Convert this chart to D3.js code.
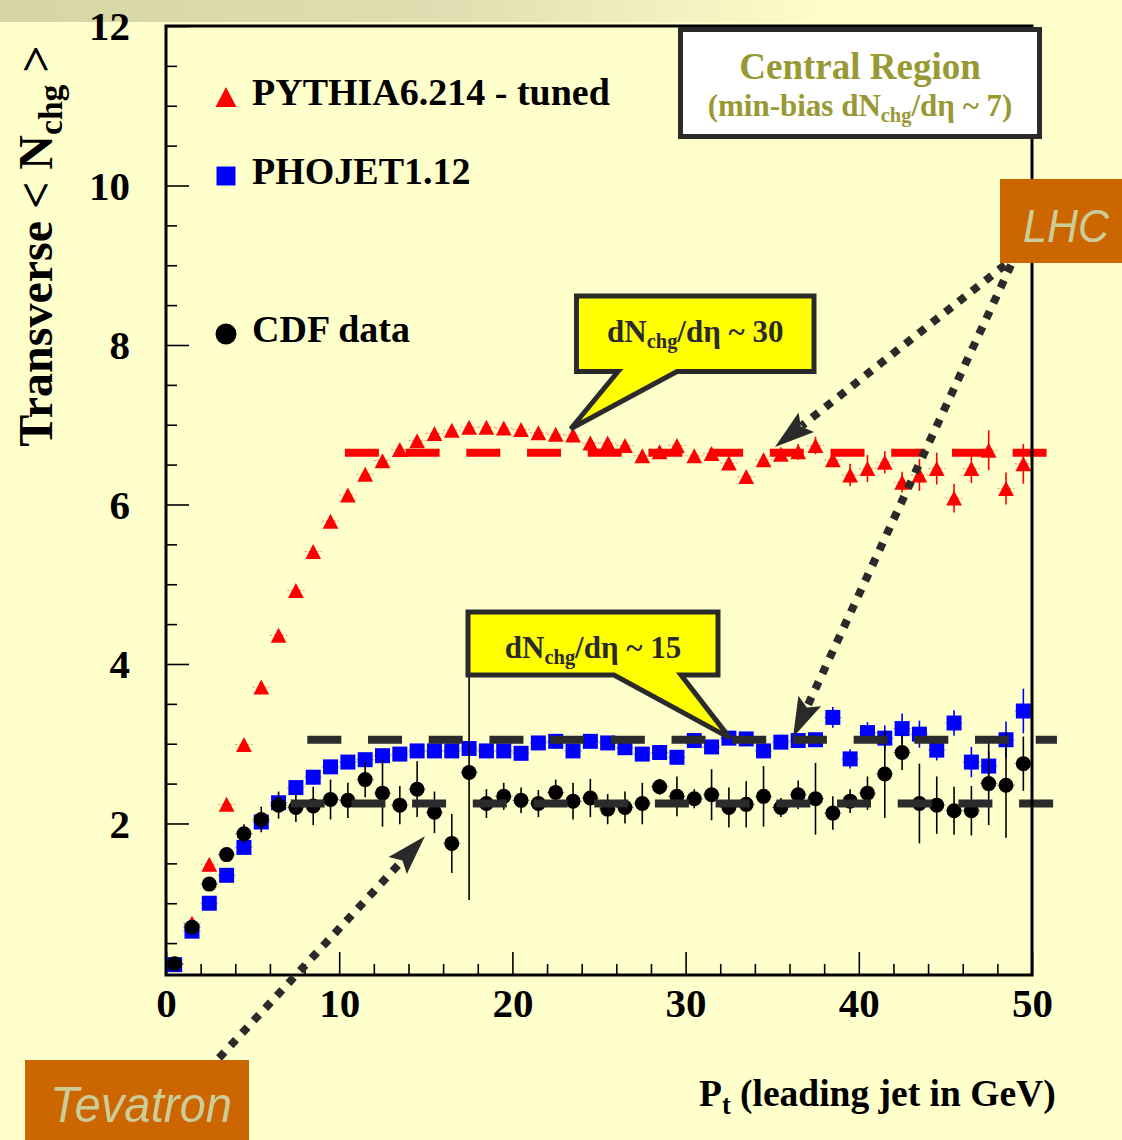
<!DOCTYPE html>
<html>
<head>
<meta charset="utf-8">
<script src="https://cdn.jsdelivr.net/npm/d3@7"></script>
<style>
  html, body { margin: 0; padding: 0; background: #ffffcc; }
  svg { display: block; }
</style>
</head>
<body>
<svg id="chart" width="1122" height="1140"></svg>
<script>
// Leading-jet Pt bins (GeV), 1 GeV wide
const binCenters = [0.5, 1.5, 2.5, 3.5, 4.5, 5.5, 6.5, 7.5, 8.5, 9.5,
  10.5, 11.5, 12.5, 13.5, 14.5, 15.5, 16.5, 17.5, 18.5, 19.5,
  20.5, 21.5, 22.5, 23.5, 24.5, 25.5, 26.5, 27.5, 28.5, 29.5,
  30.5, 31.5, 32.5, 33.5, 34.5, 35.5, 36.5, 37.5, 38.5, 39.5,
  40.5, 41.5, 42.5, 43.5, 44.5, 45.5, 46.5, 47.5, 48.5, 49.5];

// Transverse <Nchg> : PYTHIA 6.214 tuned
const pythiaValues = [0.24, 0.75, 1.49, 2.24, 2.99, 3.71, 4.36, 4.92, 5.41, 5.79,
  6.12, 6.38, 6.55, 6.69, 6.80, 6.89, 6.93, 6.97, 6.97, 6.96,
  6.94, 6.90, 6.88, 6.87, 6.77, 6.77, 6.74, 6.61, 6.66, 6.74,
  6.61, 6.64, 6.52, 6.35, 6.56, 6.63, 6.66, 6.74, 6.56, 6.37,
  6.45, 6.53, 6.28, 6.37, 6.45, 6.08, 6.45, 6.68, 6.20, 6.51];
const pythiaErrors = [0.02, 0.02, 0.02, 0.02, 0.02, 0.02, 0.02, 0.02, 0.02, 0.02,
  0.03, 0.03, 0.03, 0.03, 0.03, 0.03, 0.03, 0.03, 0.03, 0.03,
  0.04, 0.04, 0.04, 0.04, 0.04, 0.04, 0.05, 0.05, 0.05, 0.05,
  0.05, 0.05, 0.06, 0.06, 0.07, 0.08, 0.10, 0.11, 0.08, 0.14,
  0.17, 0.14, 0.13, 0.20, 0.20, 0.18, 0.18, 0.25, 0.20, 0.25];

// Transverse <Nchg> : PHOJET 1.12
const phojetValues = [0.23, 0.65, 1.00, 1.35, 1.70, 2.02, 2.26, 2.45, 2.58, 2.71,
  2.77, 2.80, 2.85, 2.87, 2.91, 2.91, 2.91, 2.94, 2.91, 2.91,
  2.88, 3.01, 3.03, 2.91, 3.03, 3.01, 2.95, 2.87, 2.89, 2.83,
  3.04, 2.96, 3.07, 3.06, 2.91, 3.02, 3.04, 3.05, 3.33, 2.81,
  3.14, 3.07, 3.19, 3.12, 2.92, 3.26, 2.77, 2.72, 3.05, 3.41];
const phojetErrors = [0.02, 0.02, 0.02, 0.02, 0.02, 0.02, 0.02, 0.02, 0.02, 0.02,
  0.03, 0.03, 0.03, 0.03, 0.03, 0.03, 0.03, 0.03, 0.03, 0.03,
  0.04, 0.04, 0.04, 0.04, 0.04, 0.04, 0.04, 0.05, 0.05, 0.05,
  0.05, 0.05, 0.06, 0.07, 0.06, 0.07, 0.08, 0.09, 0.13, 0.12,
  0.13, 0.16, 0.19, 0.17, 0.13, 0.16, 0.19, 0.19, 0.23, 0.28];

// Transverse <Nchg> : CDF data
const cdfValues = [0.24, 0.70, 1.24, 1.61, 1.87, 2.05, 2.23, 2.20, 2.22, 2.30,
  2.29, 2.55, 2.38, 2.23, 2.43, 2.14, 1.75, 2.64, 2.25, 2.34,
  2.29, 2.25, 2.39, 2.28, 2.32, 2.18, 2.20, 2.25, 2.46, 2.34,
  2.31, 2.36, 2.20, 2.24, 2.34, 2.20, 2.36, 2.31, 2.13, 2.28,
  2.38, 2.62, 2.89, 2.25, 2.23, 2.16, 2.16, 2.50, 2.48, 2.75];
const cdfErrors = [0.02, 0.04, 0.05, 0.06, 0.12, 0.16, 0.17, 0.18, 0.24, 0.25,
  0.22, 0.22, 0.42, 0.24, 0.35, 0.26, 0.37, 1.60, 0.18, 0.17,
  0.16, 0.17, 0.16, 0.23, 0.24, 0.19, 0.20, 0.26, 0.10, 0.25,
  0.12, 0.32, 0.25, 0.29, 0.38, 0.12, 0.18, 0.45, 0.21, 0.15,
  0.21, 0.55, 0.22, 0.50, 0.36, 0.30, 0.31, 0.52, 0.66, 0.34];

// Axis ticks
const yTickLabels = [2, 4, 6, 8, 10, 12];
const yMinorTicks = [0.5, 1, 1.5, 2.5, 3, 3.5, 4.5, 5, 5.5, 6.5, 7, 7.5, 8.5, 9, 9.5, 10.5, 11, 11.5];
const xTickLabels = [0, 10, 20, 30, 40, 50];
const xMinorTicks = [2, 4, 6, 8, 12, 14, 16, 18, 22, 24, 26, 28, 32, 34, 36, 38, 42, 44, 46, 48];

// Plateau levels (dashed guides): value and Pt span
const plateauNames = ["lhc", "tevModel", "tevData"];
const plateauLevels = [6.65, 3.05, 2.25];
const plateauFrom = [10.33, 8.16, 7.2];
const plateauTo = [50.85, 51.44, 51.25];

const legendLabels = ["PYTHIA6.214 - tuned", "PHOJET1.12", "CDF data"];

// ---------------------------------------------------------------
const svg = d3.select("#chart");
const W = 1122, H = 1140;
const plot = { left: 166, right: 1032, top: 26, bottom: 975 };

const x = d3.scaleLinear().domain([0, 50]).range([plot.left, plot.right]);
const y = d3.scaleLinear().domain([0.1, 12]).range([plot.bottom, plot.top]);

const serif = "'Liberation Serif', 'Times New Roman', serif";
const sans = "'Liberation Sans', Arial, sans-serif";
const ink = "#2a2a2a";

// page background and top band
const defs = svg.append("defs");
const band = defs.append("linearGradient").attr("id", "band").attr("x1", 0).attr("x2", 1).attr("y1", 0).attr("y2", 0);
band.append("stop").attr("offset", "0%").attr("stop-color", "#d5d5a5");
band.append("stop").attr("offset", "40%").attr("stop-color", "#dedeb2");
band.append("stop").attr("offset", "75%").attr("stop-color", "#ffffcc");
svg.append("rect").attr("width", W).attr("height", H).attr("fill", "#ffffcc");
svg.append("rect").attr("width", W).attr("height", 22).attr("fill", "url(#band)");

// axes
const yMajor = svg.append("g").attr("transform", `translate(${plot.left},0)`)
  .call(d3.axisLeft(y).tickValues(yTickLabels).tickSize(-23).tickPadding(36).tickFormat(d3.format("d")));
const yMinor = svg.append("g").attr("transform", `translate(${plot.left},0)`)
  .call(d3.axisLeft(y).tickValues(yMinorTicks).tickSize(-11).tickFormat(""));
const xMajor = svg.append("g").attr("transform", `translate(0,${plot.bottom})`)
  .call(d3.axisBottom(x).tickValues(xTickLabels).tickSize(-23).tickPadding(13).tickFormat(d3.format("d")));
const xMinor = svg.append("g").attr("transform", `translate(0,${plot.bottom})`)
  .call(d3.axisBottom(x).tickValues(xMinorTicks).tickSize(-11).tickFormat(""));

[yMajor, yMinor, xMajor, xMinor].forEach(g => {
  g.select(".domain").remove();
  g.selectAll(".tick line").attr("stroke", "#000").attr("stroke-width", 1.6);
  g.selectAll(".tick text")
    .attr("font-family", serif).attr("font-weight", "bold")
    .attr("font-size", 41).attr("fill", "#000");
});
yMajor.selectAll(".tick text").attr("dy", "0.34em");

// data series
const series = [
  { key: legendLabels[0], values: pythiaValues, errors: pythiaErrors, color: "#ff0000", shape: "triangle" },
  { key: legendLabels[1], values: phojetValues, errors: phojetErrors, color: "#0000ff", shape: "square" },
  { key: legendLabels[2], values: cdfValues, errors: cdfErrors, color: "#000000", shape: "circle" }
];

function markerPath(shape, cx, cy, s) {
  if (shape === "triangle") {
    const w = s * 1.05, h = s;
    return `M${cx},${cy - h / 2}L${cx + w / 2},${cy + h / 2}L${cx - w / 2},${cy + h / 2}Z`;
  }
  if (shape === "square") {
    return `M${cx - s / 2},${cy - s / 2}h${s}v${s}h${-s}Z`;
  }
  const r = s / 2;
  return `M${cx - r},${cy}a${r},${r} 0 1,0 ${2 * r},0a${r},${r} 0 1,0 ${-2 * r},0Z`;
}

const seriesG = svg.append("g").attr("class", "series");
series.forEach(sr => {
  const pts = binCenters.map((c, i) => ({ c, v: sr.values[i], e: sr.errors[i] }));
  const g = seriesG.append("g");
  // bin-width bars
  g.selectAll("line.xerr").data(pts).join("line").attr("class", "xerr")
    .attr("x1", d => x(d.c - 0.5)).attr("x2", d => x(d.c + 0.5))
    .attr("y1", d => y(d.v)).attr("y2", d => y(d.v))
    .attr("stroke", sr.color).attr("stroke-width", 1).attr("stroke-opacity", 0.5)
    .attr("stroke-dasharray", "2 2");
  // statistical errors
  g.selectAll("line.yerr").data(pts).join("line").attr("class", "yerr")
    .attr("x1", d => x(d.c)).attr("x2", d => x(d.c))
    .attr("y1", d => y(d.v - d.e)).attr("y2", d => y(d.v + d.e))
    .attr("stroke", sr.color).attr("stroke-width", 1.6);
  g.selectAll("path.mk").data(pts).join("path").attr("class", "mk")
    .attr("d", d => markerPath(sr.shape, x(d.c), y(d.v), 15))
    .attr("fill", sr.color);
});

// plateau guides
const guideColors = { lhc: "#ff0000", tevModel: "#2b2b2b", tevData: "#2b2b2b" };
svg.append("g").selectAll("line").data(plateauNames).join("line")
  .attr("x1", (d, i) => x(plateauFrom[i])).attr("x2", (d, i) => x(plateauTo[i]))
  .attr("y1", (d, i) => y(plateauLevels[i])).attr("y2", (d, i) => y(plateauLevels[i]))
  .attr("stroke", d => guideColors[d]).attr("stroke-width", 8)
  .attr("stroke-dasharray", "34 26.7");

// frame
svg.append("rect")
  .attr("x", plot.left).attr("y", plot.top)
  .attr("width", plot.right - plot.left).attr("height", plot.bottom - plot.top)
  .attr("fill", "none").attr("stroke", "#000").attr("stroke-width", 3);

// legend
const legendG = svg.append("g");
const legendY = [97, 176, 334];
const legendSizes = [20, 19, 21];
series.forEach((sr, i) => {
  legendG.append("path").attr("d", markerPath(sr.shape, 226, legendY[i], legendSizes[i])).attr("fill", sr.color);
  legendG.append("text").attr("x", 252).attr("y", legendY[i] + 8)
    .attr("font-family", serif).attr("font-weight", "bold").attr("font-size", 38)
    .attr("fill", "#000").text(sr.key);
});

// helper for dN_chg/dη texts
function dndeta(sel, tail) {
  sel.append("tspan").text("dN");
  sel.append("tspan").attr("font-size", "0.66em").attr("dy", "0.3em").text("chg");
  sel.append("tspan").attr("dy", "-0.2em").text("/dη ~ " + tail);
}

// callouts: box + wedge pointing at a data location
function callout(box, base, tipData, label) {
  const tip = [x(tipData[0]), y(tipData[1])];
  const p = [
    [box.x0, box.y0], [box.x1, box.y0], [box.x1, box.y1],
    [base[1], box.y1], tip, [base[0], box.y1], [box.x0, box.y1]
  ];
  svg.append("path").attr("d", "M" + p.map(q => q.join(",")).join("L") + "Z")
    .attr("fill", "#ffff00").attr("stroke", ink).attr("stroke-width", 5).attr("stroke-linejoin", "miter");
  const t = svg.append("text").attr("x", (box.x0 + box.x1) / 2).attr("y", box.y0 + 46)
    .attr("text-anchor", "middle")
    .attr("font-family", serif).attr("font-weight", "bold").attr("font-size", 31).attr("fill", ink);
  dndeta(t, label);
}
callout({ x0: 576.5, x1: 814, y0: 296, y1: 371.5 }, [618, 677], [23.37, 6.95], "30");
callout({ x0: 468, x1: 718, y0: 612, y1: 675 }, [614, 681], [32.56, 3.07], "15");

// title box
svg.append("rect").attr("x", 680.5).attr("y", 29.5).attr("width", 359).attr("height", 107)
  .attr("fill", "#ffffff").attr("stroke", ink).attr("stroke-width", 5);
svg.append("text").attr("x", 860).attr("y", 79).attr("text-anchor", "middle")
  .attr("font-family", serif).attr("font-weight", "bold").attr("font-size", 37).attr("fill", "#999933")
  .text("Central Region");
const sub = svg.append("text").attr("x", 860).attr("y", 116).attr("text-anchor", "middle")
  .attr("font-family", serif).attr("font-weight", "bold").attr("font-size", 31).attr("fill", "#999933");
sub.append("tspan").text("(min-bias ");
dndeta(sub, "7)");

// dotted arrows from the collider labels
function dottedArrow(tail, tipData) {
  const tip = [x(tipData[0]), y(tipData[1])];
  const dx = tip[0] - tail[0], dy = tip[1] - tail[1];
  const L = Math.hypot(dx, dy), ux = dx / L, uy = dy / L, nx = -uy, ny = ux;
  const headLen = 40, halfW = 12.5;
  const end = [tip[0] - ux * (headLen - 6), tip[1] - uy * (headLen - 6)];
  svg.append("line").attr("x1", tail[0]).attr("y1", tail[1]).attr("x2", end[0]).attr("y2", end[1])
    .attr("stroke", ink).attr("stroke-width", 8).attr("stroke-dasharray", "8 9");
  const bc = [tip[0] - ux * headLen, tip[1] - uy * headLen];
  const notch = [tip[0] - ux * (headLen - 7), tip[1] - uy * (headLen - 7)];
  const head = [tip, [bc[0] + nx * halfW, bc[1] + ny * halfW], notch, [bc[0] - nx * halfW, bc[1] - ny * halfW]];
  svg.append("path").attr("d", "M" + head.map(q => q.join(",")).join("L") + "Z").attr("fill", ink);
}
dottedArrow([1005, 265], [35.16, 6.72]);
dottedArrow([1011, 265], [36.2, 3.08]);
dottedArrow([219, 1058], [14.95, 1.84]);

// collider labels
svg.append("rect").attr("x", 1000).attr("y", 179).attr("width", 122).attr("height", 84).attr("fill", "#cc6600");
svg.append("text").attr("x", 1023).attr("y", 242)
  .attr("font-family", sans).attr("font-style", "italic").attr("font-size", 47).attr("fill", "#cccc99")
  .attr("textLength", 86).attr("lengthAdjust", "spacingAndGlyphs")
  .text("LHC");
svg.append("rect").attr("x", 25).attr("y", 1060).attr("width", 224).attr("height", 80).attr("fill", "#cc6600");
svg.append("text").attr("x", 50).attr("y", 1122)
  .attr("font-family", sans).attr("font-style", "italic").attr("font-size", 50).attr("fill", "#cccc99")
  .attr("textLength", 182).attr("lengthAdjust", "spacingAndGlyphs")
  .text("Tevatron");

// axis titles
const xt = svg.append("text").attr("x", 699).attr("y", 1106)
  .attr("font-family", serif).attr("font-weight", "bold").attr("font-size", 37.5).attr("fill", "#000");
xt.append("tspan").text("P");
xt.append("tspan").attr("font-size", "0.7em").attr("dy", "0.3em").text("t");
xt.append("tspan").attr("dy", "-0.21em").text(" (leading jet in GeV)");

const yt = svg.append("text").attr("transform", "translate(52,246) rotate(-90)")
  .attr("text-anchor", "middle")
  .attr("font-family", serif).attr("font-weight", "bold").attr("font-size", 48).attr("fill", "#000");
yt.append("tspan").text("Transverse < N");
yt.append("tspan").attr("font-size", "0.7em").attr("dy", "0.3em").text("chg");
yt.append("tspan").attr("dy", "-0.21em").text(" >");
</script>
</body>
</html>
